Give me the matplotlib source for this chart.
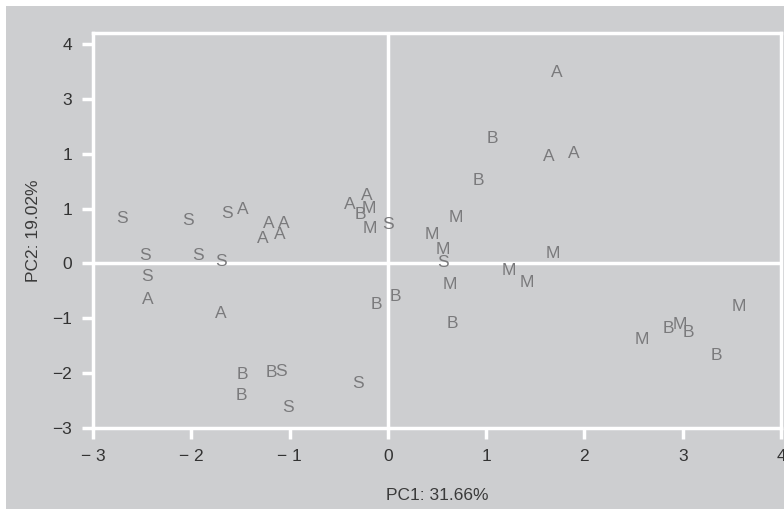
import matplotlib
matplotlib.use("Agg")
import matplotlib.pyplot as plt
from matplotlib.patches import Rectangle
from matplotlib.transforms import offset_copy

plt.rcParams['font.family'] = ['Liberation Sans', 'DejaVu Sans']

# ---- data ----
labels = ["S", "S", "S", "A", "A", "A", "A", "A", "A", "A", "B", "M", "M", "S",
          "S", "S", "S", "S", "A", "A", "B", "B", "B", "B", "S", "B", "S", "S",
          "A", "B", "A", "A", "B", "M", "M", "M", "S", "M", "M", "M", "M", "B",
          "M", "B", "M", "B", "B", "M"]
pc1 = [-2.70, -2.03, -1.64, -1.48, -1.21, -1.06, -1.27, -1.10, -0.39, -0.21, -0.28, -0.19, -0.18, 0.00,
       -2.47, -1.93, -1.70, -2.45, -2.44, -1.70, -0.12, 0.08, -1.48, -1.19, -1.09, -1.49, -1.02, -0.30,
       1.72, 1.06, 1.64, 1.89, 0.92, 0.69, 0.45, 0.56, 0.56, 0.63, 1.23, 1.41, 1.68, 0.66,
       2.58, 2.85, 2.97, 3.06, 3.34, 3.57]
pc2 = [0.85, 0.82, 0.95, 1.02, 0.76, 0.76, 0.49, 0.55, 1.11, 1.27, 0.93, 1.04, 0.67, 0.75,
       0.18, 0.18, 0.07, -0.20, -0.62, -0.89, -0.71, -0.58, -2.00, -1.95, -1.93, -2.38, -2.60, -2.15,
       3.51, 2.31, 1.98, 2.04, 1.55, 0.87, 0.55, 0.29, 0.05, -0.35, -0.09, -0.31, 0.22, -1.07,
       -1.35, -1.16, -1.09, -1.22, -1.64, -0.75]
xticks = [-3, -2, -1, 0, 1, 2, 3, 4]
xticklabels = ["\u2212 3", "\u2212 2", "\u2212 1", "0", "1", "2", "3", "4"]
yticks = [4, 3, 2, 1, 0, -1, -2, -3]
yticklabels = ["4", "3", "1", "1", "0", "\u22121", "\u22122", "\u22123"]
xlabel = "PC1: 31.66%"
ylabel = "PC2: 19.02%"

W, H = 784, 509
fig = plt.figure(figsize=(W / 100, H / 100), dpi=100)
fig.patch.set_facecolor("white")
gray = "#cdced0"
fig.patches.append(Rectangle((6 / W, 0), 1 - 6 / W, 1 - 6 / H, transform=fig.transFigure,
                             facecolor=gray, edgecolor="none", zorder=-10))

left, right, top, bottom = 93, 781, 33, 428
ax = fig.add_axes([left / W, (H - bottom) / H, (right - left) / W, (bottom - top) / H])
ax.set_zorder(5)
ax.set_facecolor(gray)
ax.set_xlim(-3, 4)
ax.set_ylim(-3, 4.2)

for s in ax.spines.values():
    s.set_color("white")
    s.set_linewidth(2.5)

ax.axhline(0, color="white", lw=2.5, zorder=1)
ax.axvline(0, color="white", lw=2.5, zorder=1)

# letters centred on their capital height
tr = offset_copy(ax.transData, fig=fig, x=0, y=-4.5, units="points")
for lab, x, y in zip(labels, pc1, pc2):
    ax.text(x, y, lab, ha="center", va="baseline", fontsize=12.5, color="#7a7a7c",
            zorder=3, transform=tr)

ax.set_xticks(xticks)
ax.set_xticklabels(xticklabels)
ax.set_yticks(yticks)
ax.set_yticklabels(yticklabels)
ax.tick_params(axis="both", direction="out", color="white", width=2.5, length=8,
               labelsize=12.5, labelcolor="#333333")
ax.tick_params(axis="y", pad=7)
ax.tick_params(axis="x", pad=7)

fig.text((left + right) / 2 / W, 1 - 496 / H, xlabel, ha="center", va="center",
         fontsize=12.5, color="#3a3a3a")
fig.text(34 / W, 1 - (top + bottom) / 2 / H, ylabel, ha="center", va="center",
         rotation=90, fontsize=12.5, color="#3a3a3a")

fig.savefig("out.png", dpi=100, facecolor=fig.get_facecolor())
